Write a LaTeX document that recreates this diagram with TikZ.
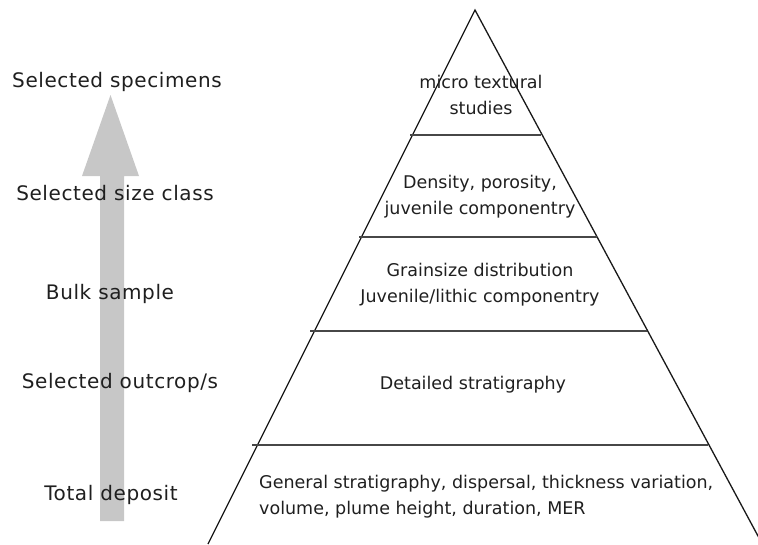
\documentclass[tikz,border=0pt]{standalone}
\usepackage{fontspec}
\setmainfont{DejaVu Sans}
\newfontfamily\lblfont{DejaVu Sans}[LetterSpace=3]
\begin{document}
\begin{tikzpicture}[x=1pt,y=-1pt,
  sidelabel/.style={font=\lblfont\fontsize{20}{24}\selectfont, text=black!88, inner sep=0pt},
  layertext/.style={font=\fontsize{17.5}{26}\selectfont, text=black!88, align=center, inner sep=0pt},
  edge/.style={draw=black!90, line width=1.3pt},
  divider/.style={draw=black!72, line width=1.6pt},
  bigarrow/.style={fill=black!22, draw=none}]
\useasboundingbox (0,0) rectangle (758,544);
% upward arrow
\coordinate (tip) at (110.5,95);
\fill[bigarrow] (tip) -- (139,176) -- (124,176) -- (124,521) -- (100,521) -- (100,176) -- (82,176) -- cycle;
% left labels
\node[sidelabel] (l1) at (117,82) {Selected specimens};
\node[sidelabel] (l2) at (115,193) {Selected size class};
\node[sidelabel] (l3) at (110,294) {Bulk sample};
\node[sidelabel] (l4) at (120,383) {Selected outcrop/s};
\node[sidelabel] (l5) at (111,495) {Total deposit};
% pyramid
\begin{scope}
\clip (0,0) rectangle (758,544);
\coordinate (apex) at (475,10);
\coordinate (bl) at (208,544);
\coordinate (br) at (762.3,544);
\draw[edge] (bl) -- (apex) -- (br);
\coordinate (d1a) at (410,135); \coordinate (d1b) at (541,135);
\coordinate (d2a) at (359,237); \coordinate (d2b) at (597,237);
\coordinate (d3a) at (310,331); \coordinate (d3b) at (647,331);
\coordinate (d4a) at (252,445); \coordinate (d4b) at (708,445);
\draw[divider] (d1a) -- (d1b);
\draw[divider] (d2a) -- (d2b);
\draw[divider] (d3a) -- (d3b);
\draw[divider] (d4a) -- (d4b);
\end{scope}
% layer texts
\node[layertext] (t1) at (481,95) {micro textural\\studies};
\node[layertext] (t2) at (480,197) {Density, porosity,\\juvenile componentry};
\node[layertext] (t3) at (480,285) {Grainsize distribution\\Juvenile/lithic componentry};
\node[layertext] (t4) at (473,385) {Detailed stratigraphy};
\node[layertext, align=left, anchor=west] (t5) at (259,497) {General stratigraphy, dispersal, thickness variation,\\volume, plume height, duration, MER};
\end{tikzpicture}
\end{document}
